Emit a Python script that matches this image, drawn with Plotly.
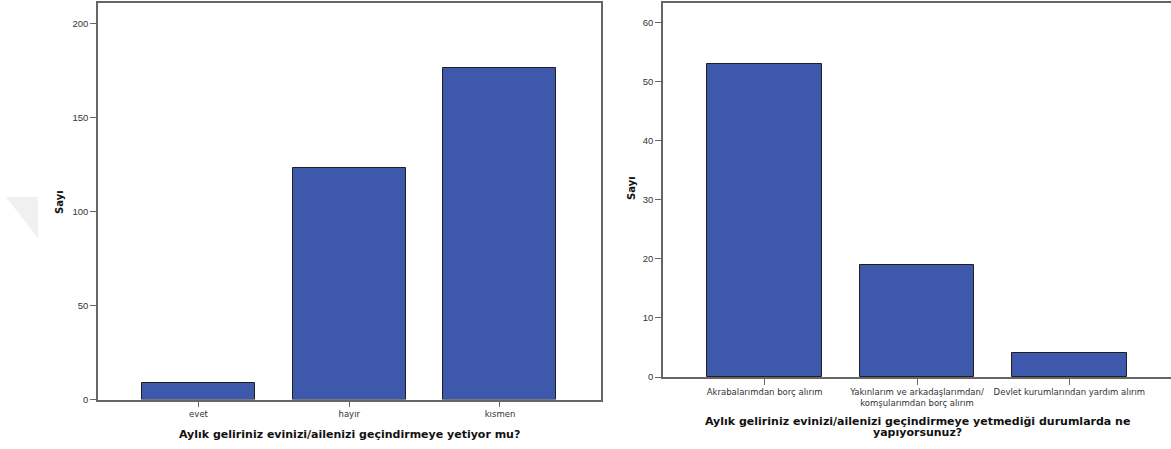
import plotly.graph_objects as go

cats1 = ["evet", "hayır", "kısmen"]
vals1 = [9, 123, 176]
cats2 = ["Akrabalarımdan borç alırım",
         "Yakınlarım ve arkadaşlarımdan/<br>komşularımdan borç alırım",
         "Devlet kurumlarından yardım alırım"]
vals2 = [53, 19, 4]
yticks1 = [0, 50, 100, 150, 200]
yticks2 = [0, 10, 20, 30, 40, 50, 60]
title1 = "Aylık geliriniz evinizi/ailenizi geçindirmeye yetiyor mu?"
title2_lines = ["Aylık geliriniz evinizi/ailenizi geçindirmeye yetmediği durumlarda ne",
                "yapıyorsunuz?"]
ytitle = "Sayı"

W, H = 1171, 449
BAR = "#3E58AC"
AX = "#666666"
YTICKF = dict(family="Liberation Sans, Arial", size=9.5, color="#333333")
XTICKF = dict(family="DejaVu Sans", size=8.5, color="#333333")

fig = go.Figure()
fig.add_trace(go.Bar(x=list(range(3)), y=vals1, width=0.75,
                     marker=dict(color=BAR, line=dict(color="#1f1f1f", width=1)),
                     xaxis="x", yaxis="y", showlegend=False, hoverinfo="skip"))
fig.add_trace(go.Bar(x=list(range(3)), y=vals2, width=0.75,
                     marker=dict(color=BAR, line=dict(color="#1f1f1f", width=1)),
                     xaxis="x2", yaxis="y2", showlegend=False, hoverinfo="skip"))

def px_x(p):
    return p / W

def px_y(p):
    return (H - p) / H

common_x = dict(showgrid=False, zeroline=False, showline=True, linecolor=AX, linewidth=1.5,
                ticks="outside", ticklen=6, tickcolor=AX, tickfont=XTICKF, mirror=True,
                automargin=False, tickangle=0)
common_y = dict(showgrid=False, zeroline=False, showline=True, linecolor=AX, linewidth=1.5,
                ticks="outside", ticklen=6, tickcolor=AX, tickfont=YTICKF, automargin=False)

fig.update_layout(
    template="none",
    width=W, height=H, margin=dict(l=0, r=0, t=0, b=0, autoexpand=False),
    paper_bgcolor="white", plot_bgcolor="white", bargap=0,
    xaxis=dict(common_x, domain=[px_x(98), px_x(600.5)], range=[-0.667, 2.667],
               tickvals=list(range(3)), ticktext=cats1, anchor="y"),
    yaxis=dict(common_y, domain=[px_y(399.5), px_y(3)], range=[0, 210.8],
               tickvals=yticks1, mirror=True, anchor="x"),
    xaxis2=dict(common_x, domain=[px_x(663), 1.0], range=[-0.667, 2.667],
                tickvals=list(range(3)), ticktext=cats2, anchor="y2"),
    yaxis2=dict(common_y, domain=[px_y(377), px_y(3)], range=[0, 63.3],
                tickvals=yticks2, anchor="x2"),
)

TF = dict(family="DejaVu Sans", size=11, color="#111111")
fig.add_annotation(text="<b>" + title1 + "</b>", xref="paper", yref="paper",
                   x=px_x(349.5), y=px_y(434), showarrow=False, font=TF,
                   xanchor="center", yanchor="middle")
for line, yy in zip(title2_lines, [421, 432.5]):
    fig.add_annotation(text="<b>" + line + "</b>", xref="paper", yref="paper",
                       x=px_x(917), y=px_y(yy), showarrow=False, font=TF,
                       xanchor="center", yanchor="middle")
YF = dict(family="DejaVu Sans", size=10, color="#111111")
fig.add_annotation(text="<b>" + ytitle + "</b>", xref="paper", yref="paper",
                   x=px_x(59), y=px_y(202), showarrow=False, font=YF, textangle=-90,
                   xanchor="center", yanchor="middle")
fig.add_annotation(text="<b>" + ytitle + "</b>", xref="paper", yref="paper",
                   x=px_x(631), y=px_y(188), showarrow=False, font=YF, textangle=-90,
                   xanchor="center", yanchor="middle")

# faint watermark triangle at the left edge
fig.add_shape(type="path", xref="paper", yref="paper",
              path=f"M {px_x(6)} {px_y(197)} L {px_x(38)} {px_y(197)} L {px_x(38)} {px_y(238)} Z",
              fillcolor="#f0f0f0", line=dict(width=0), layer="below")

fig.write_html("out.html", config={"displayModeBar": False},
               post_script="document.body.style.margin='0px';")
